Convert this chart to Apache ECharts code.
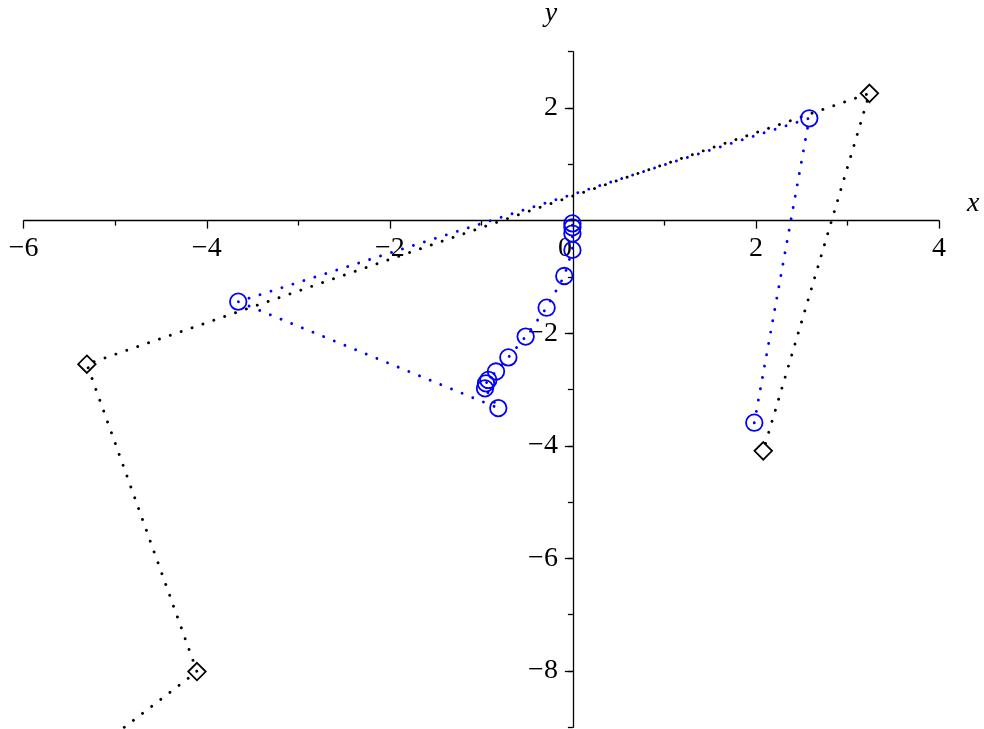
<!DOCTYPE html>
<html>
<head>
<meta charset="utf-8">
<script src="https://cdn.jsdelivr.net/npm/echarts@6/dist/echarts.min.js"></script>
<style>
  html, body { margin: 0; padding: 0; background: #fff; }
  #chart { width: 984px; height: 729px; }
</style>
</head>
<body>
<div id="chart"></div>
<script>
// Black sequence (diamonds), in visiting order; the first iterate lies below the frame
const blackX = [-5.30, -4.107, -5.31, 3.24, 2.08];
const blackY = [-9.50, -8.01, -2.55, 2.26, -4.09];

// Blue sequence (circles), in visiting order, settling towards the origin
const blueX = [1.982, 2.583, -3.656, -0.815, -0.960, -0.949, -0.924, -0.840, -0.705, -0.516, -0.287, -0.094, -0.005, -0.005, -0.005, -0.005];
const blueY = [-3.59, 1.817, -1.44, -3.33, -2.98, -2.89, -2.83, -2.68, -2.43, -2.06, -1.547, -0.984, -0.52, -0.23, -0.12, -0.05];

// Axis ranges, ticks and labels
const xRange = [-6, 4];
const yRange = [-9, 3];
const xTickLabels = [-6, -4, -2, 0, 2, 4];
const yTickLabels = [-8, -6, -4, -2, 2];
const yMajorTicks = [-8, -6, -4, -2, 0, 2];

const FONT = 'Liberation Serif';
const LABEL_SIZE = 28;
const fmt = v => (v < 0 ? '\u2212' + Math.abs(v) : String(v));
const zip = (xs, ys) => xs.map((x, i) => [x, ys[i]]);

const W = 984, H = 729;
const G = { left: 23.7, right: 45, top: 51.7, bottom: 1.7 };
const gridW = W - G.left - G.right;
const gridH = H - G.top - G.bottom;

// The axes cross at the origin: shift each axis from its grid edge to the zero line
const yAxisShift = -((0 - xRange[0]) / (xRange[1] - xRange[0])) * gridW;   // left edge -> x = 0
const yAxisShiftR = -((xRange[1] - 0) / (xRange[1] - xRange[0])) * gridW;  // right edge -> x = 0
const xAxisShift = -((0 - yRange[0]) / (yRange[1] - yRange[0])) * gridH;   // bottom edge -> y = 0

const dotted = color => ({
  color: color,
  width: 2.9,
  type: [0.01, 11.5],
  cap: 'round'
});

const axisStroke = { color: '#000', width: 1.3 };

const chart = echarts.init(document.getElementById('chart'), null, { renderer: 'canvas' });

chart.setOption({
  animation: false,
  backgroundColor: '#fff',
  grid: {
    left: G.left, right: G.right, top: G.top, bottom: G.bottom,
    containLabel: false,
    outerBoundsMode: 'none'
  },
  xAxis: {
    type: 'value',
    position: 'bottom',
    offset: xAxisShift,
    min: xRange[0], max: xRange[1], interval: 2,
    name: 'x',
    nameLocation: 'end',
    nameGap: 28,
    nameTextStyle: {
      fontFamily: FONT, fontStyle: 'italic', fontSize: 28, color: '#000',
      verticalAlign: 'bottom', lineHeight: 34
    },
    axisLine: { onZero: false, lineStyle: axisStroke },
    axisTick: { show: true, length: 8, lineStyle: axisStroke },
    minorTick: { show: true, splitNumber: 2, length: 5, lineStyle: axisStroke },
    splitLine: { show: false },
    axisLabel: {
      margin: 14,
      fontFamily: FONT, fontSize: LABEL_SIZE, color: '#000',
      formatter: v => (xTickLabels.indexOf(v) < 0 ? '' : (v === 0 ? '{z|0}' : fmt(v))),
      rich: { z: { fontFamily: FONT, fontSize: LABEL_SIZE, color: '#000', padding: [0, 16, 0, 0] } }
    }
  },
  yAxis: [
    {
      type: 'value',
      position: 'left',
      offset: yAxisShift,
      min: yRange[0], max: yRange[1], interval: 1,
      name: 'y',
      nameLocation: 'end',
      nameGap: 24,
      nameTextStyle: {
        fontFamily: FONT, fontStyle: 'italic', fontSize: 28, color: '#000',
        padding: [0, 44, 0, 0]
      },
      axisLine: { onZero: false, lineStyle: axisStroke },
      axisTick: { show: true, length: 5, lineStyle: axisStroke },
      splitLine: { show: false },
      axisLabel: {
        margin: 15,
        fontFamily: FONT, fontSize: LABEL_SIZE, color: '#000',
        formatter: v => (yTickLabels.indexOf(v) < 0 ? '' : fmt(v))
      }
    },
    {
      // longer ticks at the even values, drawn on the same vertical line
      type: 'value',
      position: 'right',
      offset: yAxisShiftR,
      min: yRange[0], max: yRange[1], interval: 1,
      axisLine: { show: false, onZero: false },
      axisTick: { show: true, inside: true, length: 8, customValues: yMajorTicks, lineStyle: axisStroke },
      axisLabel: { show: false },
      splitLine: { show: false }
    }
  ],
  series: [
    {
      name: 'black',
      type: 'line',
      data: zip(blackX, blackY),
      clip: true,
      symbol: 'diamond',
      symbolSize: 17.5,
      itemStyle: { color: 'rgba(0,0,0,0)', borderColor: '#000', borderWidth: 1.8 },
      lineStyle: dotted('#000'),
      emphasis: { disabled: true },
      z: 2
    },
    {
      name: 'blue',
      type: 'line',
      data: zip(blueX, blueY),
      clip: true,
      symbol: 'circle',
      symbolSize: 16.5,
      itemStyle: { color: 'rgba(0,0,0,0)', borderColor: '#0000ff', borderWidth: 1.8 },
      lineStyle: dotted('#0000ff'),
      emphasis: { disabled: true },
      z: 3
    }
  ]
});
</script>
</body>
</html>
